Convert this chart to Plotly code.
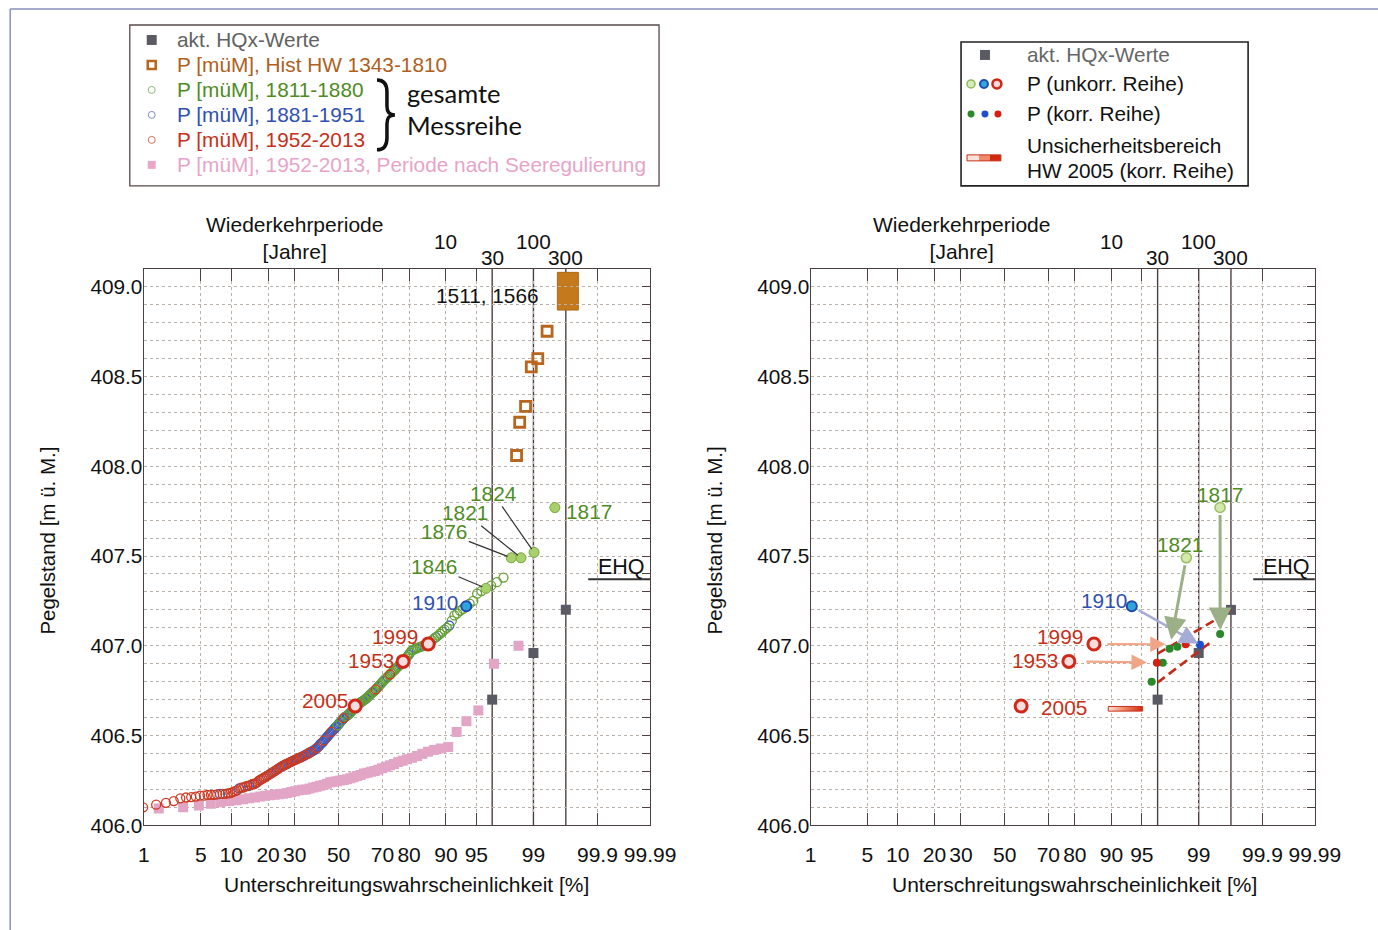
import plotly.graph_objects as go
from statistics import NormalDist

# reference canvas size (layout fractions are computed from it; the figure fills the window)
W, H = 1378, 930
# measured mapping of this renderer: shown = SX*page + OX (and the same for y)
SX, OX = 0.980, 3.8
SY, OY = 0.989, -1.0
ND = NormalDist()


def z(p):
    return ND.inv_cdf(p / 100.0)


# ---------------- data ----------------
x_ticks = [1, 5, 10, 20, 30, 50, 70, 80, 90, 95, 99, 99.9, 99.99]
x_tick_text = ["1", "5", "10", "20", "30", "50", "70", "80", "90", "95", "99", "99.9", "99.99"]
y_ticks = [406.0, 406.5, 407.0, 407.5, 408.0, 408.5, 409.0]
y_range = [406.0, 409.1]
x_range_p = [1, 99.99]

return_period_labels = [10, 30, 100, 300]
return_period_lines = [30, 100, 300]
hq_periods = [30, 100, 300]
hq_levels = [406.70, 406.96, 407.20]

# whole series 1811-2013, sorted ascending (Weibull plotting position rank/(n+1))
series_levels = [
    406.09, 406.10, 406.115, 406.125, 406.135, 406.15, 406.155, 406.157, 406.16, 406.165,
    406.165, 406.17, 406.17, 406.17, 406.172, 406.175, 406.175, 406.175, 406.178, 406.18,
    406.185, 406.19, 406.195, 406.205, 406.21, 406.21, 406.215, 406.22, 406.22, 406.225,
    406.23, 406.23, 406.235, 406.24, 406.25, 406.255, 406.26, 406.265, 406.27, 406.275,
    406.28, 406.285, 406.29, 406.295, 406.30, 406.305, 406.31, 406.315, 406.32, 406.325,
    406.33, 406.333, 406.336, 406.34, 406.343, 406.346, 406.35, 406.353, 406.356, 406.36,
    406.363, 406.366, 406.37, 406.372, 406.375, 406.378, 406.38, 406.384, 406.387, 406.39,
    406.394, 406.397, 406.40, 406.404, 406.407, 406.41, 406.413, 406.417, 406.42, 406.425,
    406.43, 406.435, 406.44, 406.45, 406.455, 406.46, 406.465, 406.473, 406.48, 406.487,
    406.493, 406.50, 406.507, 406.513, 406.52, 406.525, 406.532, 406.538, 406.545, 406.55,
    406.557, 406.563, 406.57, 406.577, 406.583, 406.59, 406.597, 406.603, 406.607, 406.61,
    406.615, 406.62, 406.625, 406.63, 406.64, 406.645, 406.655, 406.664, 406.668, 406.672,
    406.676, 406.68, 406.684, 406.688, 406.692, 406.696, 406.70, 406.705, 406.71, 406.716,
    406.722, 406.728, 406.734, 406.74, 406.745, 406.75, 406.757, 406.764, 406.771, 406.778,
    406.785, 406.792, 406.80, 406.807, 406.814, 406.82, 406.827, 406.834, 406.84, 406.847,
    406.853, 406.86, 406.867, 406.875, 406.883, 406.89, 406.898, 406.905, 406.913, 406.92,
    406.93, 406.94, 406.95, 406.962, 406.974, 406.978, 406.982, 406.986, 406.99, 406.993,
    406.996, 407.0, 407.003, 407.006, 407.01, 407.02, 407.03, 407.04, 407.048, 407.057,
    407.067, 407.078, 407.09, 407.10, 407.113, 407.14, 407.169, 407.18, 407.195, 407.205,
    407.22, 407.235, 407.25, 407.29, 407.305, 407.32, 407.335, 407.354, 407.38, 407.49,
    407.49, 407.52, 407.77,
]
# period of each ranked value: G = 1811-1880, B = 1881-1951, R = 1952-2013
series_group = (
    "RRRRRRRRRR" "RRRRRBRRRR" "RRRBRRRRBR" "RRBRRRRRRB" "RRBRRRBRRB"
    "RBRRRBRRBR" "RRBRBRRBBR" "BBRBBRBBBB" "RBBBBBBRBB" "BBBBRBBBBB"
    "GBBGBBRBGB" "BGBGBGBRGB" "GGBGBGGBGG" "BGGBGGRGBG" "GGBGGGBGRG"
    "GGBGGGBGRG" "GGBGGGGBGG" "GBGGRGGGBG" "GGGGBGGGGG" "BGGGGGGGGG" "GGG"
)
highlight_rank = {"1817": 203, "1824": 202, "1821": 201, "1876": 200, "1846": 196,
                  "1910": 191, "1999": 175, "1953": 159, "2005": 118}

# 1952-2013 after lake regulation (62 values, sorted)
pink_levels = [
    406.093, 406.10, 406.11, 406.12, 406.128, 406.135, 406.14, 406.145, 406.15, 406.155,
    406.16, 406.165, 406.168, 406.17, 406.173, 406.176, 406.18, 406.185, 406.19, 406.195,
    406.198, 406.20, 406.205, 406.21, 406.215, 406.22, 406.225, 406.232, 406.24, 406.243,
    406.246, 406.25, 406.253, 406.257, 406.262, 406.268, 406.274, 406.28, 406.288, 406.293,
    406.298, 406.303, 406.31, 406.318, 406.326, 406.334, 406.342, 406.352, 406.36, 406.368,
    406.376, 406.386, 406.398, 406.41, 406.42, 406.428, 406.436, 406.52, 406.58, 406.64,
    406.90, 407.00,
]

hist_p = [98.32, 98.47, 98.72, 98.93, 99.13, 99.36]
hist_levels = [408.06, 408.245, 408.334, 408.553, 408.60, 408.752]
hist_box_p = [99.55, 99.79]
hist_box_levels = [408.87, 409.08]

# right chart: corrected series
korr_p = [99.51, 99.04, 98.5, 98.08, 97.6, 97.1, 96.6, 96.1]
korr_levels = [407.066, 407.006, 407.008, 406.995, 406.984, 406.906, 406.906, 406.80]
korr_group = "GBRGGGRG"
right_years = ["1817", "1821", "1910", "1999", "1953", "2005"]
korr_target = {"1817": 0, "1910": 1, "1999": 2, "1821": 4, "1953": 6}

band_upper_p = [96.667, 99.667]
band_upper_levels = [406.956, 407.196]
band_lower_p = [96.667, 99.36]
band_lower_levels = [406.795, 407.027]
bar_2005_p = [89.3, 95.1]
bar_2005_levels = [406.636, 406.662]

ehq_level = 407.37
ehq_p_start = 99.856
ehq_label_p = 99.963

assert len(series_levels) == 203 and len(series_group) == 203
assert len(pink_levels) == 62

# ---------------- style ----------------
FONT = "Liberation Sans, Arial, sans-serif"
FS = 20.8
FRAME = "#4d3f3f"
GRID = "#b9b1aa"
C = {"G": "#64a035", "B": "#3a5cc2", "R": "#cc3a22"}
CK = {"G": "#2a8a2a", "B": "#1f4fd0", "R": "#d42010"}
TXT_G, TXT_B, TXT_R = "#4f8c1f", "#3050b0", "#c63018"

n = len(series_levels)
series_p = [100.0 * (i + 1) / (n + 1) for i in range(n)]
pink_p = [100.0 * (i + 1) / (len(pink_levels) + 1) for i in range(len(pink_levels))]

fig = go.Figure()


def add(tr):
    fig.add_trace(tr)


for side in ("left", "right"):
    xa, ya = ("x", "y") if side == "left" else ("x2", "y2")
    if side == "left":
        add(go.Scatter(x=[z(p) for p in pink_p], y=pink_levels, mode="markers", xaxis=xa, yaxis=ya,
                       marker=dict(symbol="square", size=10, color="#e3a5c6", line=dict(width=0))))
        add(go.Scatter(x=[z(p) for p in hist_p], y=hist_levels, mode="markers", xaxis=xa, yaxis=ya,
                       marker=dict(symbol="square-open", size=10, color="#b8661e", line=dict(width=2.8))))
    add(go.Scatter(x=[z(100 * (1 - 1 / T)) for T in hq_periods], y=hq_levels, mode="markers",
                   xaxis=xa, yaxis=ya,
                   marker=dict(symbol="square", size=10, color="#5a5a64")))

# main series (left)
for g in ("B", "G", "R"):
    idx = [i for i in range(n) if series_group[i] == g]
    add(go.Scatter(x=[z(series_p[i]) for i in idx], y=[series_levels[i] for i in idx],
                   mode="markers", xaxis="x", yaxis="y",
                   marker=dict(symbol="circle-open", size=9, color=C[g], line=dict(width=1.3))))


def hl_style(year, right=False):
    if year in ("1999", "1953", "2005"):
        return dict(symbol="circle", size=12, color="#f7dede", line=dict(color="#d22818", width=3))
    if year == "1910":
        return dict(symbol="circle", size=10, color="#2ea6dc", line=dict(color="#2448a8", width=2))
    if right:
        return dict(symbol="circle", size=10, color="#d2e8ac", line=dict(color="#98c060", width=1.5))
    return dict(symbol="circle", size=10, color="#a8d06c", line=dict(color="#80ae48", width=1))


for yr, r in highlight_rank.items():
    add(go.Scatter(x=[z(series_p[r - 1])], y=[series_levels[r - 1]], mode="markers",
                   xaxis="x", yaxis="y", marker=hl_style(yr)))

# right chart
add(go.Scatter(x=[z(p) for p in band_upper_p], y=band_upper_levels, mode="lines", xaxis="x2", yaxis="y2",
               line=dict(color="#c42a1a", width=2.6, dash="9px,5px")))
add(go.Scatter(x=[z(p) for p in band_lower_p], y=band_lower_levels, mode="lines", xaxis="x2", yaxis="y2",
               line=dict(color="#c42a1a", width=2.6, dash="9px,5px")))
bx = [z(bar_2005_p[0]), z(bar_2005_p[1]), z(bar_2005_p[1]), z(bar_2005_p[0]), z(bar_2005_p[0])]
by = [bar_2005_levels[0], bar_2005_levels[0], bar_2005_levels[1], bar_2005_levels[1], bar_2005_levels[0]]
add(go.Scatter(x=bx, y=by, mode="lines", fill="toself", xaxis="x2", yaxis="y2",
               line=dict(color="#c83018", width=1),
               fillgradient=dict(type="horizontal",
                                 colorscale=[[0, "#fde6dc"], [0.45, "#f08a6a"], [1, "#cf2a10"]])))
for yr in right_years:
    r = highlight_rank[yr]
    add(go.Scatter(x=[z(series_p[r - 1])], y=[series_levels[r - 1]], mode="markers",
                   xaxis="x2", yaxis="y2", marker=hl_style(yr, right=True)))
for i in range(len(korr_p)):
    add(go.Scatter(x=[z(korr_p[i])], y=[korr_levels[i]], mode="markers", xaxis="x2", yaxis="y2",
                   marker=dict(symbol="circle", size=8, color=CK[korr_group[i]])))

# dummy traces for right-side tick axes
add(go.Scatter(x=[None], y=[None], xaxis="x", yaxis="y3"))
add(go.Scatter(x=[None], y=[None], xaxis="x2", yaxis="y4"))

fig.update_traces(showlegend=False, hoverinfo="skip")


# ---------------- layout ----------------
def px(x):
    return ((x - OX) / SX) / W


def py(y):
    return 1 - ((y - OY) / SY) / H


def dom_x(a, b):
    return [px(a), px(b)]


def dom_y(top, bot):
    return [py(bot), py(top)]


zr = [z(x_range_p[0]), z(x_range_p[1])]
xcommon = dict(range=zr, tickvals=[z(p) for p in x_ticks], ticktext=x_tick_text, tickangle=0,
               showgrid=True, gridcolor=GRID, griddash="3px,3px", gridwidth=1,
               showline=True, linecolor=FRAME, linewidth=1.3, mirror="ticks",
               ticks="inside", ticklen=12, tickcolor=FRAME, tickwidth=1,
               tickfont=dict(family=FONT, size=21, color="#111"), ticklabelstandoff=10,
               zeroline=False, fixedrange=True)
ycommon = dict(range=y_range, tickvals=y_ticks, ticktext=["%.1f" % v for v in y_ticks],
               showgrid=True, gridcolor=GRID, griddash="3px,3px", gridwidth=1,
               minor=dict(tick0=406.0, dtick=0.1, showgrid=True, gridcolor=GRID, griddash="3px,3px"),
               showline=True, linecolor=FRAME, linewidth=1.3, mirror=True, ticks="",
               tickfont=dict(family=FONT, size=20.8, color="#111"), ticklabelstandoff=-4,
               zeroline=False, fixedrange=True)
rticks = dict(range=y_range, tick0=406.0, dtick=0.1, ticks="inside", ticklen=8, tickcolor=FRAME,
              showticklabels=False, showgrid=False, showline=False, zeroline=False, side="right",
              fixedrange=True)

L = dict(x0=142, x1=650, top=268, bot=825)
R = dict(x0=811, x1=1317, top=268, bot=825)

fig.update_layout(
    autosize=True, margin=dict(l=0, r=0, t=0, b=0, pad=0),
    paper_bgcolor="white", plot_bgcolor="white", showlegend=False,
    xaxis=dict(domain=dom_x(L["x0"], L["x1"]), anchor="y", **xcommon),
    yaxis=dict(domain=dom_y(L["top"], L["bot"]), anchor="x", **ycommon),
    xaxis2=dict(domain=dom_x(R["x0"], R["x1"]), anchor="y2", **xcommon),
    yaxis2=dict(domain=dom_y(R["top"], R["bot"]), anchor="x2", **ycommon),
    yaxis3=dict(overlaying="y", anchor="x", **rticks),
    yaxis4=dict(overlaying="y2", anchor="x2", **rticks),
    font=dict(family=FONT, color="#111"),
)

shapes = []
annos = []


def panno(x, y, text, size=FS, color="#111", xanchor="center", yanchor="middle", **kw):
    d = dict(xref="paper", yref="paper", x=px(x), y=py(y), text=text, showarrow=False,
             xanchor=xanchor, yanchor=yanchor, font=dict(family=kw.pop("family", FONT), size=size,
                                                         color=color))
    d.update(kw)
    annos.append(d)


# vertical return-period lines, EHQ underline, top labels
for xa, ya in (("x", "y"), ("x2", "y2")):
    for T in return_period_lines:
        xv = z(100 * (1 - 1 / T))
        shapes.append(dict(type="line", xref=xa, yref=ya + " domain", x0=xv, x1=xv, y0=0, y1=1,
                           line=dict(color=FRAME, width=1.4), layer="below"))
    shapes.append(dict(type="line", xref=xa, yref=ya, x0=z(ehq_p_start), x1=zr[1],
                       y0=ehq_level, y1=ehq_level, line=dict(color="#333", width=2)))
    annos.append(dict(xref=xa, yref=ya, x=z(ehq_label_p), y=ehq_level, text="EHQ", showarrow=False,
                      xanchor="center", yanchor="bottom", yshift=-2, font=dict(size=21.5, color="#111")))
    for T, yy in zip(return_period_labels, [241, 257, 241, 257]):
        annos.append(dict(xref=xa, yref="paper", x=z(100 * (1 - 1 / T)), y=py(yy), text=str(T),
                          showarrow=False, xanchor="center", yanchor="middle",
                          font=dict(size=FS, color="#111")))

shapes.append(dict(type="rect", xref="x", yref="y", x0=z(hist_box_p[0]), x1=z(hist_box_p[1]),
                   y0=hist_box_levels[0], y1=hist_box_levels[1], fillcolor="#c47a1c",
                   line=dict(color="#b06a14", width=1), layer="below"))
annos.append(dict(xref="x", yref="y", x=(z(hist_box_p[0]) + z(hist_box_p[1])) / 2,
                  y=sum(hist_box_levels) / 2, text="1511, 1566", showarrow=False,
                  xanchor="center", yanchor="middle",
                  xshift=-80, yshift=-4, font=dict(size=FS, color="#111")))

# axis titles
for cx in (293, 962):
    panno(cx, 237, "Wiederkehrperiode<br>[Jahre]", size=21, align="center")
for cx in (406, 1076):
    panno(cx, 884, "Unterschreitungswahrscheinlichkeit [%]", size=21)
for cx in (45, 715):
    panno(cx, 540, "Pegelstand [m ü. M.]", textangle=-90, size=20.5,
          family="Liberation Sans Narrow, Liberation Sans, Arial")


def pt(yr):
    r = highlight_rank[yr]
    return z(series_p[r - 1]), series_levels[r - 1]


year_col = {"1817": TXT_G, "1824": TXT_G, "1821": TXT_G, "1876": TXT_G, "1846": TXT_G,
            "1910": TXT_B, "1999": TXT_R, "1953": TXT_R, "2005": TXT_R}
leader = {"1824": (-41, -59), "1821": (-56, -45), "1876": (-67, -26), "1846": (-52, -22)}
shifted = {"1817": (34, -4), "1910": (-31, 4), "1999": (-33, 7), "1953": (-32, 1), "2005": (-30, 6)}
for yr, (ax, ay) in leader.items():
    x, y = pt(yr)
    annos.append(dict(xref="x", yref="y", x=x, y=y, text=yr, showarrow=True, arrowhead=0,
                      arrowwidth=1.2, arrowcolor="#333", ax=ax, ay=ay, standoff=4,
                      font=dict(size=FS, color=year_col[yr])))
for yr, (dx, dy) in shifted.items():
    x, y = pt(yr)
    annos.append(dict(xref="x", yref="y", x=x, y=y, text=yr, showarrow=False, xshift=dx, yshift=dy,
                      xanchor="center", yanchor="middle", font=dict(size=FS, color=year_col[yr])))

rshift = {"1817": (0, 13), "1821": (-6, 13), "1910": (-28, 6), "1999": (-34, 7),
          "1953": (-34, 1), "2005": (43, -1)}
for yr, (dx, dy) in rshift.items():
    x, y = pt(yr)
    annos.append(dict(xref="x2", yref="y2", x=x, y=y, text=yr, showarrow=False, xshift=dx, yshift=dy,
                      xanchor="center", yanchor="middle", font=dict(size=FS, color=year_col[yr])))

arrow_style = {
    "1817": dict(arrowcolor="#9cb088", arrowwidth=3, arrowsize=1.5, standoff=4, startstandoff=6),
    "1821": dict(arrowcolor="#9cb088", arrowwidth=3, arrowsize=1.5, standoff=9, startstandoff=6),
    "1910": dict(arrowcolor="#a6acd6", arrowwidth=2.5, arrowsize=1.5, standoff=2, startstandoff=6),
    "1999": dict(arrowcolor="#f0a686", arrowwidth=2.2, arrowsize=1.4, standoff=20, startstandoff=12),
    "1953": dict(arrowcolor="#f0a686", arrowwidth=2.2, arrowsize=1.4, standoff=10, startstandoff=16),
}
for yr, k in korr_target.items():
    x0, y0 = pt(yr)
    annos.append(dict(xref="x2", yref="y2", axref="x2", ayref="y2", x=z(korr_p[k]), y=korr_levels[k],
                      ax=x0, ay=y0, text="", showarrow=True, arrowhead=2, **arrow_style[yr]))


# ---------------- custom legends ----------------
def rect(x0, y0, x1, y1, **kw):
    return dict(type="rect", xref="paper", yref="paper", x0=px(x0), x1=px(x1), y0=py(y1), y1=py(y0), **kw)


def circ(cx, cy, r, **kw):
    return dict(type="circle", xref="paper", yref="paper", x0=px(cx - r), x1=px(cx + r),
                y0=py(cy + r), y1=py(cy - r), **kw)


def ltext(x, y, t, col, size=FS, fam=FONT):
    panno(x, y, t, size=size, color=col, xanchor="left", family=fam)


# outer frame (top and left edges visible)
shapes.append(dict(type="line", xref="paper", yref="paper", x0=px(8), x1=1.02, y0=py(8), y1=py(8),
                   line=dict(color="#8890c0", width=1.5)))
shapes.append(dict(type="line", xref="paper", yref="paper", x0=px(8), x1=px(8), y0=-0.02, y1=py(8),
                   line=dict(color="#8890c0", width=1.5)))

# left legend
shapes.append(rect(128, 24, 659, 185, line=dict(color="#5a4a4a", width=1.3)))
shapes.append(rect(145, 34, 155, 44, fillcolor="#5a5a62", line=dict(width=0)))
shapes.append(rect(146, 60, 154, 68, line=dict(color="#b8661e", width=2.5)))
shapes.append(circ(150, 89, 3.5, line=dict(color="#8fb870", width=1)))
shapes.append(circ(150, 114, 3.5, line=dict(color="#8090c0", width=1)))
shapes.append(circ(150, 139, 3.5, line=dict(color="#d07060", width=1)))
shapes.append(rect(146, 160, 154, 168, fillcolor="#eaa8c8", line=dict(width=0)))
ltext(173, 39, "akt. HQx-Werte", "#616161")
ltext(173, 64, "P [müM], Hist HW 1343-1810", "#b0601c")
ltext(173, 89, "P [müM], 1811-1880", TXT_G)
ltext(173, 114, "P [müM], 1881-1951", TXT_B)
ltext(173, 139, "P [müM], 1952-2013", TXT_R)
ltext(173, 164, "P [müM], 1952-2013, Periode nach Seeregulierung", "#e8a4c8")
bp = [(376, 79), (383, 79), (386, 83), (386, 91), (386, 105), (386, 111), (388, 114), (394, 114),
      (388, 114), (386, 117), (386, 123), (386, 137), (386, 145), (383, 149), (376, 149)]
q = ["%.5f,%.5f" % (px(a), py(b)) for a, b in bp]
brace_path = ("M " + q[0] + " C " + q[1] + " " + q[2] + " " + q[3] + " L " + q[4] +
              " C " + q[5] + " " + q[6] + " " + q[7] + " C " + q[8] + " " + q[9] + " " + q[10] +
              " L " + q[11] + " C " + q[12] + " " + q[13] + " " + q[14])
shapes.append(dict(type="path", xref="paper", yref="paper", path=brace_path,
                   line=dict(color="#111", width=3.5)))
ltext(404, 92, "gesamte", "#111", size=25.5, fam="Lato, Open Sans, sans-serif")
ltext(404, 124, "Messreihe", "#111", size=25.5, fam="Lato, Open Sans, sans-serif")

# right legend
shapes.append(rect(962, 41, 1250, 185, line=dict(color="#222", width=1.6)))
shapes.append(rect(981, 49, 991, 59, fillcolor="#5a5a62", line=dict(width=0)))
shapes.append(circ(972, 83, 4, fillcolor="#d8eab8", line=dict(color="#8cbc5c", width=1.5)))
shapes.append(circ(985, 83, 4, fillcolor="#30a8e0", line=dict(color="#2050b0", width=2)))
shapes.append(circ(998, 83, 4.5, fillcolor="#f8d8d8", line=dict(color="#d02818", width=2.5)))
shapes.append(circ(972, 113, 3.5, fillcolor=CK["G"], line=dict(width=0)))
shapes.append(circ(986, 113, 3.5, fillcolor=CK["B"], line=dict(width=0)))
shapes.append(circ(999, 113, 3.5, fillcolor=CK["R"], line=dict(width=0)))
for (a, b, col) in ((968, 980, "#fbe2d8"), (980, 991, "#f08a6a"), (991, 1002, "#d02a10")):
    shapes.append(rect(a, 154, b, 160, fillcolor=col, line=dict(width=0)))
shapes.append(rect(968, 154, 1002, 160, line=dict(color="#c83018", width=1)))
ltext(1026, 54, "akt. HQx-Werte", "#666")
ltext(1026, 83, "P (unkorr. Reihe)", "#111")
ltext(1026, 113, "P (korr. Reihe)", "#111")
ltext(1026, 145, "Unsicherheitsbereich", "#111")
ltext(1026, 170, "HW 2005 (korr. Reihe)", "#111")

fig.update_layout(shapes=shapes, annotations=annos)

post = ("document.documentElement.style.height='100%';"
        "document.documentElement.style.margin='0';"
        "document.body.style.height='100%';"
        "document.body.style.margin='0';"
        "document.body.style.overflow='hidden';"
        "var gd=document.getElementById('{plot_id}');"
        "gd.style.width='100vw';gd.style.height='100vh';"
        "Plotly.Plots.resize(gd);")
fig.write_html("out.html", config={"displayModeBar": False, "responsive": True},
               default_width="100%", default_height="100%", post_script=post)
